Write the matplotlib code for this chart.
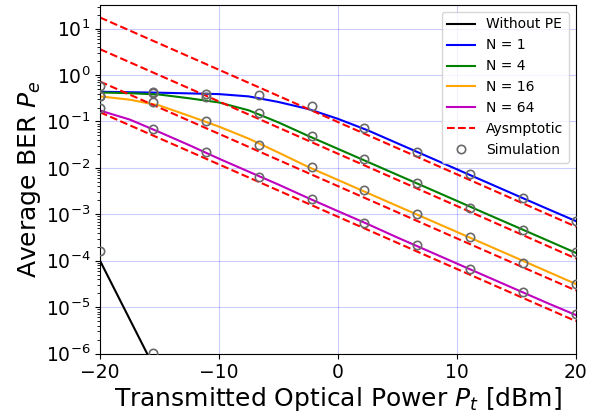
"""Average BER vs transmitted optical power, with and without PE."""

import matplotlib

matplotlib.use("Agg")
import matplotlib.pyplot as plt
import numpy as np

# analytical curves, sampled every 2.5 dBm
pt_theory = [-20, -17.5, -15, -12.5, -10, -7.5, -5, -2.5, 0,
             2.5, 5, 7.5, 10, 12.5, 15, 17.5, 20]
ber_n1 = [0.437, 0.427, 0.417, 0.403, 0.389, 0.347, 0.263, 0.186, 0.114,
          0.0646, 0.0339, 0.0178, 0.00933, 0.0049, 0.00257, 0.00135, 7.16e-4]
ber_n4 = [0.422, 0.407, 0.380, 0.316, 0.257, 0.174, 0.0955, 0.049, 0.0257,
          0.0135, 0.00708, 0.00372, 0.00195, 0.00102, 5.37e-4, 2.82e-4, 1.48e-4]
ber_n16 = [0.347, 0.295, 0.221, 0.132, 0.0776, 0.0427, 0.0214, 0.0105, 0.0055,
           0.00288, 0.00151, 7.94e-4, 4.17e-4, 2.19e-4, 1.15e-4, 6.03e-5, 3.16e-5]
ber_n64 = [0.172, 0.110, 0.0589, 0.0309, 0.0158, 0.0083, 0.00437, 0.00224, 0.00117,
           6.17e-4, 3.16e-4, 1.66e-4, 8.71e-5, 4.57e-5, 2.40e-5, 1.26e-5, 6.76e-6]

# without pointing error (drops off the chart almost immediately)
pt_nope = [-20, -15.56, -11.11]
ber_nope = [1.0e-4, 5.7e-7, 2e-9]

# high-SNR asymptotes
pt_asym = [-20, -10, 0, 10, 20]
asym_n1 = [17.4, 1.30, 0.0973, 0.00728, 5.43e-4]
asym_n4 = [3.61, 0.270, 0.0202, 0.00151, 1.12e-4]
asym_n16 = [0.724, 0.0542, 0.00405, 3.03e-4, 2.29e-5]
asym_n64 = [0.158, 0.0119, 8.87e-4, 6.64e-5, 5.01e-6]

# Monte-Carlo points
pt_sim = [-20, -15.56, -11.11, -6.67, -2.22, 2.22, 6.67, 11.11, 15.56, 20]
sim_nope = [1.63e-4, 1.05e-6, np.nan, np.nan, np.nan,
            np.nan, np.nan, np.nan, np.nan, np.nan]
sim_n1 = [0.59, 0.44, 0.39, 0.37, 0.22, 0.0717, 0.0224, 0.0074, 0.0023, 7.2e-4]
sim_n4 = [0.36, 0.42, 0.33, 0.151, 0.049, 0.0154, 0.0048, 0.0014, 4.5e-4, 1.58e-4]
sim_n16 = [0.36, 0.26, 0.102, 0.0313, 0.0104, 0.0033, 0.001, 3.3e-4, 8.9e-5, 3.1e-5]
sim_n64 = [0.194, 0.068, 0.0218, 0.0065, 0.00215, 6.6e-4, 2.15e-4, 6.6e-5, 2.15e-5, 7.0e-6]

fig = plt.figure(figsize=(6.1, 4.15), dpi=100)
ax = fig.add_axes([0.164, 0.148, 0.780, 0.840])

ax.semilogy(pt_nope, ber_nope, color="k", lw=1.5, label="Without PE")
ax.semilogy(pt_theory, ber_n1, color="b", lw=1.5, label="N = 1")
ax.semilogy(pt_theory, ber_n4, color="g", lw=1.5, label="N = 4")
ax.semilogy(pt_theory, ber_n16, color="orange", lw=1.5, label="N = 16")
ax.semilogy(pt_theory, ber_n64, color="m", lw=1.5, label="N = 64")

for i, asym in enumerate([asym_n1, asym_n4, asym_n16, asym_n64]):
    ax.semilogy(pt_asym, asym, "r--", lw=1.5,
                label="Aysmptotic" if i == 0 else None)

for i, sim in enumerate([sim_nope, sim_n1, sim_n4, sim_n16, sim_n64]):
    ax.semilogy(pt_sim, sim, "o", mfc="none", mec="dimgray", ms=6, mew=1.2,
                label="Simulation" if i == 0 else None, zorder=5)

ax.set_xlim(-20, 20)
ax.set_ylim(1e-6, 10 ** 1.51)
ax.set_xticks([-20, -10, 0, 10, 20])
ax.grid(True, which="major", color="b", alpha=0.2, lw=0.8)
ax.tick_params(labelsize=13.5)
ax.set_xlabel("Transmitted Optical Power $P_t$ [dBm]", fontsize=18, labelpad=2)
ax.set_ylabel("Average BER $P_e$", fontsize=18, labelpad=2)
ax.legend(loc="upper right", fontsize=10)

fig.savefig("out.png")
plt.close(fig)
